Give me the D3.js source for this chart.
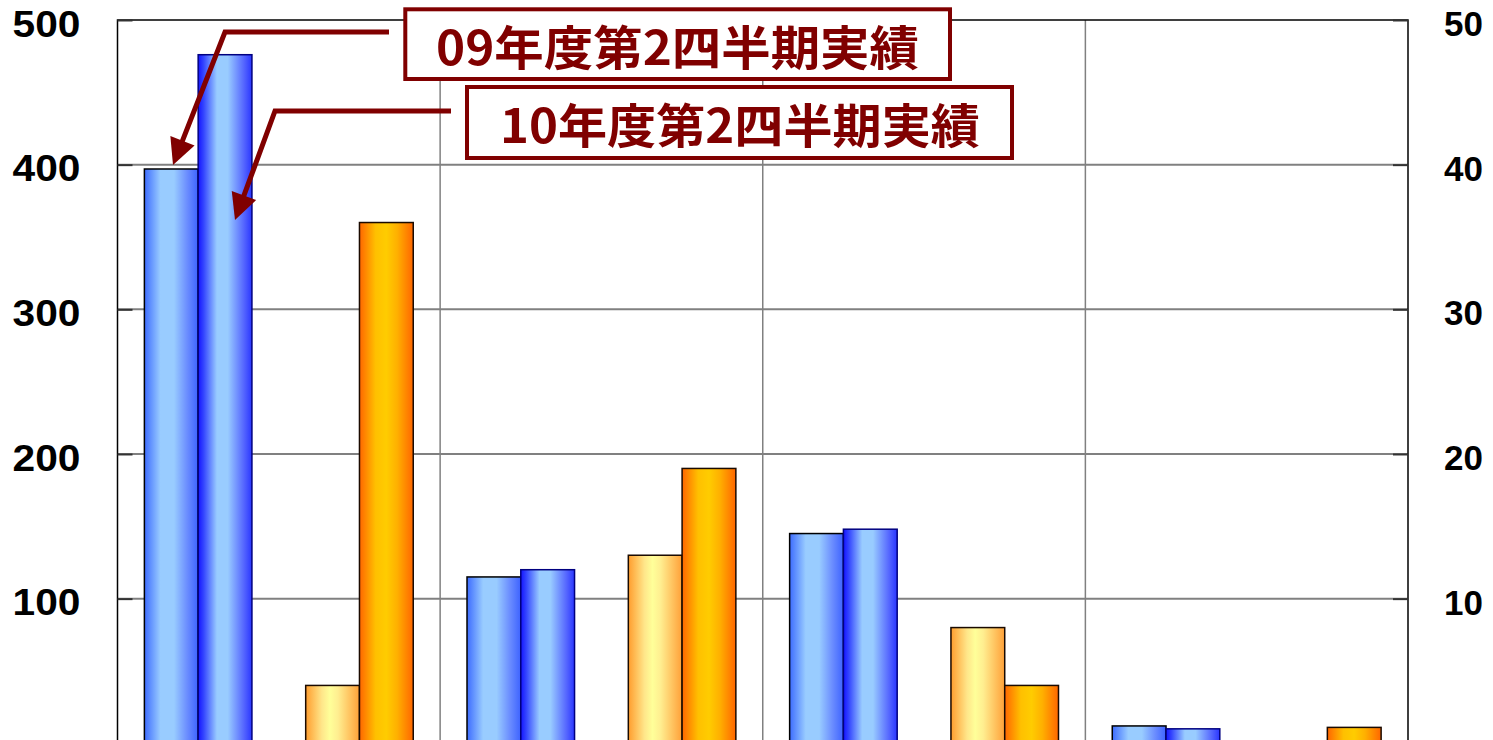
<!DOCTYPE html>
<html>
<head>
<meta charset="utf-8">
<script src="https://cdn.jsdelivr.net/npm/d3@7"></script>
<style>
  html, body { margin: 0; padding: 0; background: #fff; overflow: hidden; }
</style>
</head>
<body>
<svg id="chart" width="1493" height="740"></svg>
<script>
// Chart data (category labels sit below the visible area)
const categories = ['1', '2', '3', '4'];
const seriesNames = ['09年度第2四半期実績', '10年度第2四半期実績'];
const leftValues09 = [397, 115, 145, 12];     // blue pairs, left axis
const leftValues10 = [476, 120, 148, 10];
const rightValues09 = [4.0, 13.0, 8.0, 0];    // orange pairs, right axis
const rightValues10 = [36.0, 19.0, 4.0, 1.1];
const leftTicks = [100, 200, 300, 400, 500];
const rightTicks = [10, 20, 30, 40, 50];

const svg = d3.select('#chart');
const plot = { left: 117.5, right: 1408, top: 20, bottom: 743.3 };
const latin = '"Liberation Sans", Arial, sans-serif';

// Scales
const x = d3.scaleBand().domain(categories).range([plot.left, plot.right]);
const side = d3.scaleBand().domain(['left', 'right']).range([0, x.bandwidth()]);
const xs = d3.scaleBand().domain(seriesNames).range([0, side.bandwidth()])
  .paddingInner(0).paddingOuter(0.5);
const yL = d3.scaleLinear().domain([0, 500]).range([plot.bottom, plot.top]);
const yR = d3.scaleLinear().domain([0, 50]).range([plot.bottom, plot.top]);

// Gradients
const defs = svg.append('defs');
const gradients = {
  blue09: [[0, '#3d6cff'], [0.3, '#99ccff'], [0.55, '#99ccff'], [0.8, '#6a8cff'], [1, '#3d63ff']],
  blue10: [[0, '#1414ff'], [0.1, '#3344ff'], [0.35, '#99ccff'], [0.55, '#99ccff'], [0.85, '#5566ff'], [1, '#2a36ff']],
  orange09: [[0, '#ff9d2e'], [0.3, '#ffe68a'], [0.45, '#ffff99'], [0.6, '#ffee90'], [1, '#ffa038']],
  orange10: [[0, '#ff6600'], [0.3, '#ffc000'], [0.5, '#ffcc00'], [0.7, '#ffb000'], [1, '#ff6600']],
};
Object.entries(gradients).forEach(([id, stops]) => {
  const g = defs.append('linearGradient').attr('id', id)
    .attr('x1', 0).attr('x2', 1).attr('y1', 0).attr('y2', 0);
  stops.forEach(([o, c]) => g.append('stop').attr('offset', o).attr('stop-color', c));
});

// Grid lines
const grid = svg.append('g');
grid.selectAll('line.h')
  .data(leftTicks.filter(t => t < 500))
  .enter().append('line')
  .attr('x1', plot.left).attr('x2', plot.right)
  .attr('y1', d => yL(d)).attr('y2', d => yL(d))
  .attr('stroke', '#808080').attr('stroke-width', 2);
grid.selectAll('line.v')
  .data(categories.slice(1))
  .enter().append('line')
  .attr('x1', d => x(d)).attr('x2', d => x(d))
  .attr('y1', plot.top).attr('y2', plot.bottom)
  .attr('stroke', '#808080').attr('stroke-width', 1.5);

// Bars
const bars = [];
categories.forEach((c, i) => {
  bars.push({ c, s: 'left', name: seriesNames[0], v: leftValues09[i], y: yL, fill: 'blue09', stroke: '#000' });
  bars.push({ c, s: 'left', name: seriesNames[1], v: leftValues10[i], y: yL, fill: 'blue10', stroke: '#000080' });
  bars.push({ c, s: 'right', name: seriesNames[0], v: rightValues09[i], y: yR, fill: 'orange09', stroke: '#1a0a00' });
  bars.push({ c, s: 'right', name: seriesNames[1], v: rightValues10[i], y: yR, fill: 'orange10', stroke: '#1a0a00' });
});
svg.append('g').selectAll('rect')
  .data(bars.filter(d => d.v > 0))
  .enter().append('rect')
  .attr('x', d => x(d.c) + side(d.s) + xs(d.name))
  .attr('width', xs.bandwidth())
  .attr('y', d => d.y(d.v))
  .attr('height', d => plot.bottom - d.y(d.v))
  .attr('fill', d => `url(#${d.fill})`)
  .attr('stroke', d => d.stroke)
  .attr('stroke-width', 1.5);

// Frame
svg.append('path')
  .attr('d', `M${plot.left},${plot.bottom}V${plot.top}H${plot.right}V${plot.bottom}`)
  .attr('fill', 'none').attr('stroke', '#000').attr('stroke-width', 1.5);

// Axes (ticks pointing inward)
const leftAxis = svg.append('g')
  .attr('transform', `translate(${plot.left},0)`)
  .call(d3.axisLeft(yL).tickValues(leftTicks).tickSize(-15).tickPadding(37));
const rightAxis = svg.append('g')
  .attr('transform', `translate(${plot.right},0)`)
  .call(d3.axisRight(yR).tickValues(rightTicks).tickSize(-15).tickPadding(36));
[leftAxis, rightAxis].forEach(a => {
  a.select('.domain').remove();
  a.selectAll('.tick line').attr('stroke', '#333').attr('stroke-width', 2);
});
leftAxis.selectAll('.tick text')
  .attr('fill', '#000')
  .style('font-family', latin).style('font-size', '37px').style('font-weight', 'bold')
  .attr('dy', '0.44em')
  .each(function () {
    const w = this.getComputedTextLength();
    this.setAttribute('textLength', w * 1.1);
    this.setAttribute('lengthAdjust', 'spacingAndGlyphs');
  });
rightAxis.selectAll('.tick text')
  .attr('fill', '#000')
  .style('font-family', latin).style('font-size', '35px').style('font-weight', 'bold')
  .attr('dy', '0.44em');

// Callouts
const red = '#800000';
const callouts = [
  { label: seriesNames[0], box: [405.3, 9.3, 544.7, 69.7], textX: 436, textW: 483, baseline: 65,
    line: [[389, 32], [225, 32]], tip: [173, 165] },
  { label: seriesNames[1], box: [467, 87, 545, 71], textX: 500, textW: 480, baseline: 143,
    line: [[451, 111], [275, 111]], tip: [235, 220] },
];
const ann = svg.append('g');
callouts.forEach(c => {
  const [bx, by] = c.line[1];
  const [tx, ty] = c.tip;
  const len = Math.hypot(tx - bx, ty - by);
  const ux = (tx - bx) / len, uy = (ty - by) / len;
  const headLen = 26, headHalf = 13;
  const baseX = tx - ux * headLen, baseY = ty - uy * headLen;
  ann.append('path')
    .attr('d', `M${c.line[0][0]},${c.line[0][1]}L${bx},${by}L${baseX + ux * 2},${baseY + uy * 2}`)
    .attr('fill', 'none').attr('stroke', red).attr('stroke-width', 5)
    .attr('stroke-linejoin', 'miter');
  ann.append('path')
    .attr('d', `M${tx},${ty}L${baseX - uy * headHalf},${baseY + ux * headHalf}L${baseX + uy * headHalf},${baseY - ux * headHalf}Z`)
    .attr('fill', red);
  ann.append('rect')
    .attr('x', c.box[0]).attr('y', c.box[1])
    .attr('width', c.box[2]).attr('height', c.box[3])
    .attr('fill', '#fff').attr('stroke', red).attr('stroke-width', 4);
  ann.append('text')
    .attr('x', c.textX).attr('y', c.baseline)
    .style('font-family', '"Noto Sans CJK JP", sans-serif')
    .style('font-size', '47px').style('font-weight', 'bold')
    .attr('fill', red)
    .attr('textLength', c.textW).attr('lengthAdjust', 'spacingAndGlyphs')
    .text(c.label);
});
</script>
</body>
</html>
